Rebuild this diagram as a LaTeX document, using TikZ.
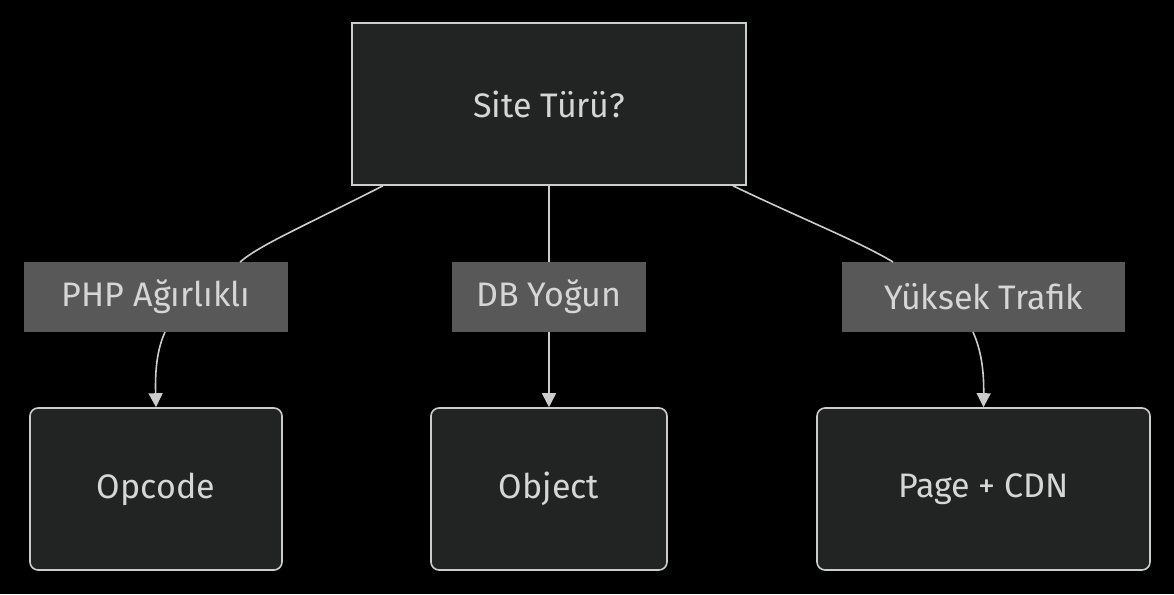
\documentclass[tikz,border=0pt]{standalone}
\usepackage{fontspec}
\setmainfont{Fira Sans}
\usetikzlibrary{arrows.meta}
\definecolor{boxfill}{HTML}{222423}
\definecolor{edge}{HTML}{CCCCCC}
\definecolor{lblfill}{HTML}{585858}
\definecolor{txt}{HTML}{D6D6D6}
\begin{document}
\begin{tikzpicture}[x=1pt,y=-1pt,
  box/.style={draw=edge,fill=boxfill,line width=1.6pt,text=txt,font=\fontsize{34}{40}\selectfont},
  lbl/.style={fill=lblfill,text=txt,font=\fontsize{34}{40}\selectfont,inner sep=0pt},
  conn/.style={draw=edge,line width=1.6pt},
  arr/.style={conn,-{Triangle[length=14pt,width=14pt]}}]
\fill[black] (0,0) rectangle (1174,594);
\useasboundingbox (0,0) rectangle (1174,594);
\node[box,minimum width=394pt,minimum height=162pt] (top) at (549,104) {Site Türü?};
\node[box,rounded corners=8pt,minimum width=252pt,minimum height=162pt] (op) at (156,489) {Opcode};
\node[box,rounded corners=8pt,minimum width=236pt,minimum height=162pt] (ob) at (549,489) {Object};
\node[box,rounded corners=8pt,minimum width=333pt,minimum height=162pt] (pg) at (983.5,489) {Page + CDN};
\node[lbl,minimum width=264pt,minimum height=70pt] (l1) at (156,297) {PHP Ağırlıklı};
\node[lbl,minimum width=194pt,minimum height=70pt] (l2) at (549,297) {DB Yoğun};
\node[lbl,minimum width=283pt,minimum height=70pt] (l3) at (983.5,297) {Yüksek Trafik};
\coordinate (a1) at (383,185.8);
\coordinate (a3) at (733,185.8);
\draw[conn] (a1) .. controls (300,228) and (260,245) .. (240,262);
\draw[arr] (165,332) .. controls (157,350) and (155,370) .. (op.north);
\draw[conn] (top.south) -- (l2.north);
\draw[arr] (l2.south) -- (ob.north);
\draw[conn] (a3) .. controls (800,218) and (860,242) .. (893,262);
\draw[arr] (973,332) .. controls (981,350) and (984,370) .. (pg.north);
\end{tikzpicture}
\end{document}
